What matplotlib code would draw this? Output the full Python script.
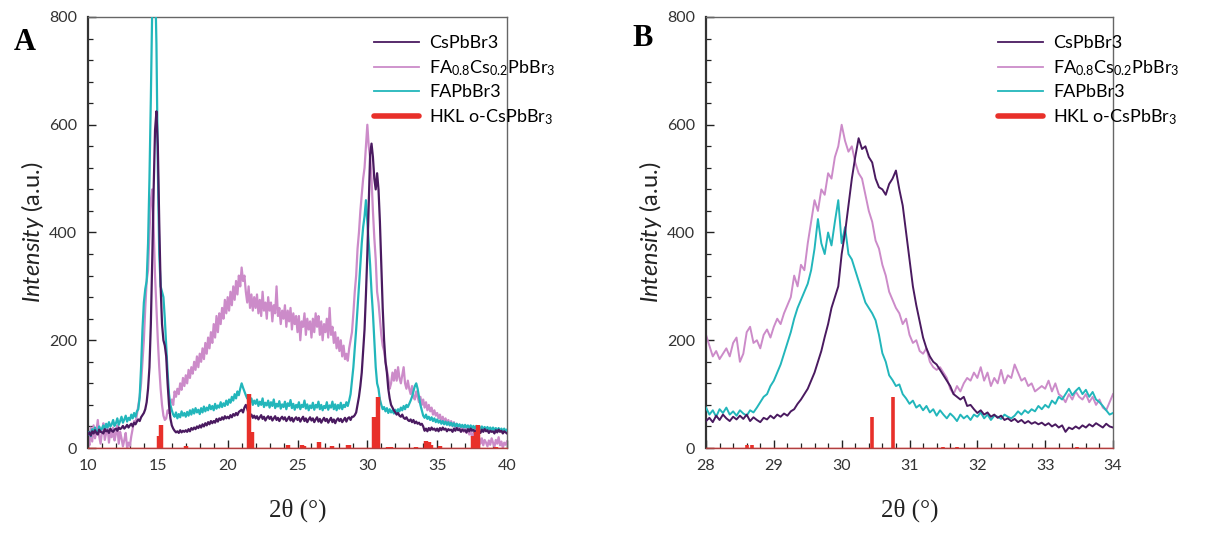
import numpy as np
import matplotlib
matplotlib.use("Agg")
import matplotlib.pyplot as plt
from matplotlib.ticker import MultipleLocator

# ---------------- data ----------------
two_theta_A = np.round(np.arange(10.0, 40.0001, 0.1), 2)   # sampling grid, panel A
two_theta_B = np.round(np.arange(28.0, 34.0001, 0.05), 3)  # sampling grid, panel B

cs_A = [
    25, 29, 23, 31, 27, 33, 28, 25, 34, 30,
    29, 27, 35, 31, 33, 28, 36, 32, 30, 34,
    36, 32, 38, 35, 37, 41, 36, 39, 43, 38,
    42, 45, 40, 47, 44, 49, 53, 50, 57, 61,
    65, 72, 85, 110, 150, 230, 350, 480, 590, 625,
    560, 420, 300, 230, 200, 190, 170, 120, 80, 55,
    42, 36, 32, 29, 31, 28, 33, 29, 32, 30,
    33, 30, 35, 31, 37, 34, 38, 35, 40, 37,
    42, 38, 44, 40, 46, 42, 48, 44, 50, 46,
    50, 47, 54, 49, 55, 52, 57, 53, 59, 55,
    58, 55, 61, 57, 63, 60, 65, 61, 67, 69,
    71, 66, 75, 80, 73, 64, 60, 62, 56, 60,
    55, 59, 53, 57, 61, 54, 58, 51, 56, 59,
    54, 58, 51, 55, 59, 52, 56, 50, 55, 58,
    53, 57, 50, 54, 58, 51, 56, 49, 54, 57,
    52, 56, 49, 54, 58, 50, 55, 48, 53, 57,
    51, 55, 48, 53, 57, 49, 54, 47, 52, 56,
    50, 54, 47, 52, 56, 48, 53, 46, 52, 55,
    50, 54, 48, 52, 56, 49, 55, 57, 52, 58,
    58, 61, 66, 80, 95, 115, 140, 180, 220, 285,
    360, 450, 545, 565, 540, 500, 480, 510, 480, 420,
    340, 260, 200, 160, 140, 110, 92, 80, 75, 70,
    66, 62, 65, 60, 58, 62, 56, 54, 57, 52,
    50, 53, 48, 52, 46, 49, 45, 47, 43, 45,
    40, 32, 36, 31, 37, 33, 38, 34, 36, 32,
    36, 31, 37, 33, 38, 34, 36, 31, 35, 33,
    34, 30, 36, 32, 37, 33, 35, 30, 34, 32,
    33, 29, 35, 31, 36, 32, 34, 29, 33, 31,
    32, 28, 34, 30, 35, 31, 33, 28, 32, 30,
    31, 27, 33, 29, 34, 30, 32, 27, 31, 29,
    27,
]

fa08_A = [
    20, 5, 38, 12, 42, 18, 30, 52, 22, 8,
    30, 46, 15, 28, 40, 10, 33, 20, 38, 14,
    26, 42, 8, 30, 18, 3, 15, 28, 0, 10,
    4, 22, 36, 50, 45, 62, 80, 95, 120, 160,
    200, 260, 310, 330, 400, 460, 480, 410, 320, 260,
    200, 150, 110, 80, 60, 52, 55, 70, 65, 85,
    90, 80, 105, 95, 110, 100, 120, 108, 130, 115,
    135, 120, 145, 130, 150, 138, 160, 145, 170, 150,
    175, 160, 185, 165, 195, 175, 205, 185, 215, 195,
    230, 205, 245, 215, 250, 230, 260, 240, 275, 250,
    280, 255, 290, 265, 300, 275, 310, 285, 320, 300,
    335, 310, 320, 290, 270, 300, 260, 285, 255, 280,
    260, 285, 250, 275, 245, 290, 255, 270, 240, 280,
    255, 270, 235, 265, 250, 300, 245, 260, 230, 255,
    240, 265, 225, 255, 235, 260, 220, 250, 230, 245,
    215, 245, 200, 235, 225, 250, 210, 240, 220, 235,
    205, 240, 215, 250, 225, 245, 210, 235, 200, 230,
    215, 240, 205, 260, 210, 225, 195, 215, 185, 205,
    180, 200, 170, 190, 165, 175, 162, 185, 200, 215,
    250, 290, 320, 370, 400, 440, 470, 500, 520, 560,
    600, 560, 540, 500, 440, 390, 350, 290, 270, 240,
    210, 190, 180, 160, 145, 130, 110, 120, 140, 125,
    145, 125, 150, 130, 120, 135, 150, 120, 110, 125,
    110, 100, 115, 95, 90, 105, 95, 85, 95, 80,
    90, 75, 85, 70, 80, 68, 75, 62, 70, 60,
    65, 55, 62, 50, 58, 48, 55, 45, 52, 42,
    50, 40, 48, 38, 45, 35, 42, 32, 40, 30,
    38, 28, 35, 25, 32, 20, 28, 18, 25, 12,
    20, 8, 18, 5, 15, 10, 3, 14, 6, 18,
    10, 2, 15, 8, 20, 5, 12, 0, 10, 6,
    12,
]

fa_A = [
    25, 30, 22, 35, 28, 38, 30, 27, 40, 33,
    36, 42, 34, 45, 38, 48, 40, 44, 52, 41,
    46, 55, 43, 50, 58, 47, 53, 60, 49, 56,
    52, 62, 55, 65, 58, 68, 72, 95, 150, 220,
    270, 295, 310, 380, 500, 650, 820, 900, 880, 750,
    520, 360, 300, 290, 280, 240, 190, 140, 100, 80,
    70, 62, 58, 66, 55, 63, 57, 68, 60, 65,
    58, 67, 60, 70, 62, 72, 64, 74, 66, 71,
    63, 74, 66, 77, 68, 75, 70, 80, 72, 78,
    70, 82, 73, 79, 75, 85, 76, 83, 78, 88,
    80, 90, 84, 95, 88, 100, 92, 105, 98, 110,
    120, 112, 105, 98, 92, 95, 85, 92, 80, 88,
    82, 90, 78, 86, 80, 92, 76, 84, 79, 88,
    75, 85, 78, 90, 74, 82, 77, 87, 73, 81,
    76, 86, 72, 83, 78, 89, 74, 82, 71, 80,
    75, 85, 72, 80, 76, 88, 73, 81, 70, 79,
    74, 84, 71, 80, 75, 86, 72, 80, 70, 78,
    74, 85, 71, 79, 75, 86, 72, 81, 70, 80,
    73, 84, 72, 80, 76, 85, 78, 88, 100, 125,
    150, 185, 220, 260, 300, 340, 380, 410, 430, 460,
    420, 380, 340, 290, 250, 200, 150, 120, 110, 90,
    80, 72, 76, 68, 74, 65, 72, 66, 70, 64,
    71, 65, 72, 68, 75, 70, 78, 72, 80, 76,
    82, 88, 95, 105, 115, 120, 110, 95, 80, 70,
    60, 56, 62, 54, 58, 52, 57, 50, 55, 48,
    53, 47, 51, 45, 50, 44, 49, 43, 48, 42,
    47, 41, 46, 40, 45, 40, 44, 39, 43, 38,
    43, 38, 42, 37, 42, 37, 41, 36, 41, 36,
    40, 35, 40, 35, 39, 34, 39, 34, 38, 33,
    38, 33, 37, 32, 37, 32, 36, 31, 36, 31,
    34,
]

cs_B = [
    50, 56, 48, 60, 52, 62, 55, 50, 58, 53,
    60, 54, 62, 50, 57, 52, 48, 56, 53, 60,
    55, 62, 58, 64, 60, 68, 72, 82, 90, 100,
    110, 125, 140, 160, 180, 206, 230, 260, 280, 300,
    360, 400, 450, 500, 540, 575, 555, 560, 540, 530,
    500, 484, 480, 470, 490, 500, 515, 480, 450, 400,
    350, 300, 265, 235, 205, 185, 170, 160, 155, 145,
    135, 125, 115, 100, 95, 90, 95, 78, 80, 72,
    65, 70, 62, 66, 58, 62, 56, 60, 52, 55,
    50, 54, 48, 52, 46, 50, 45, 48, 44, 47,
    42, 46, 40, 44, 38, 42, 30, 38, 35, 40,
    36, 42, 38, 44, 40, 46, 42, 38, 45, 40,
    38,
]

fa08_B = [
    210, 190, 170, 180, 165, 175, 185, 170, 195, 205,
    160, 175, 215, 225, 195, 200, 185, 210, 220, 205,
    225, 240, 230, 250, 265, 280, 320, 300, 340, 330,
    380, 420, 460, 440, 480, 470, 510, 500, 540, 560,
    600, 570, 550, 560, 530, 510, 500, 470, 440, 420,
    385, 370, 340, 320, 290, 275, 260, 250, 230, 240,
    210, 195, 200, 180, 175, 185, 160, 150, 145, 150,
    140, 130, 110, 100, 115, 105, 120, 130, 125, 140,
    130, 150, 125, 140, 115, 130, 120, 145, 120, 135,
    130, 155, 140, 125, 130, 115, 120, 105, 110, 115,
    110, 125, 105, 120, 100, 95, 85, 100, 90, 105,
    95, 90, 100, 85, 95, 80, 90, 75, 70, 85,
    100,
]

fa_B = [
    75, 62, 70, 58, 72, 65, 75, 62, 68, 60,
    70, 64, 60, 70, 66, 75, 85, 95, 100, 115,
    125, 140, 155, 175, 195, 215, 240, 260, 275, 290,
    305, 330, 370, 425, 380, 360, 400, 376, 420, 460,
    380, 410, 360, 350, 330, 310, 290, 270, 260, 250,
    237, 210, 176, 160, 135, 126, 115, 118, 100, 92,
    82, 88, 75, 80, 70, 78, 66, 72, 60, 70,
    62, 55, 64, 58, 50, 62, 55, 60, 52, 62,
    58, 66, 55, 62, 52, 60, 58, 54, 62, 58,
    55, 60, 68, 62, 70, 65, 72, 68, 78, 72,
    80, 75, 88, 82, 95, 90, 100, 110, 98, 106,
    112, 100, 108, 95, 104, 90, 85, 78, 70, 62,
    65,
]

hkl_pos = [15.1, 15.25, 17.0, 21.55, 21.75, 24.3, 25.3, 25.45, 26.55, 27.45,
           28.6, 28.68, 30.45, 30.75, 31.5, 31.7, 33.47, 34.2, 34.4, 34.55,
           35.2, 37.6, 37.8, 37.95, 39.2]
hkl_int = [22, 42, 3, 100, 30, 6, 6, 4, 11, 4,
           5, 5, 58, 95, 2, 2, 2, 13, 12, 6,
           4, 22, 30, 42, 2]

labels = ["CsPbBr3", r"FA$_{0.8}$Cs$_{0.2}$PbBr$_3$", "FAPbBr3", r"HKL o-CsPbBr$_3$"]
colors = {"cs": "#4a1a60", "fa08": "#cc8bc9", "fa": "#22b6bb", "hkl": "#e8302a"}

# ---------------- style ----------------
plt.rcParams['font.family'] = ['Lato', 'DejaVu Sans']
plt.rcParams['mathtext.fontset'] = 'custom'
plt.rcParams['mathtext.rm'] = 'Lato'
plt.rcParams['mathtext.it'] = 'Lato:italic'

fig = plt.figure(figsize=(12.15, 5.33), dpi=100)
axA = fig.add_axes([88 / 1215, 1 - 448 / 533, 419 / 1215, 431 / 533])
axB = fig.add_axes([706 / 1215, 1 - 448 / 533, 407 / 1215, 431 / 533])


def draw(ax, x, cs, fa08, fa, xlim, xmaj, xmin, barw, lw, leg_anchor):
    l2, = ax.plot(x, fa08, color=colors["fa08"], lw=lw, zorder=2)
    l3, = ax.plot(x, fa, color=colors["fa"], lw=lw, zorder=3)
    l1, = ax.plot(x, cs, color=colors["cs"], lw=lw, zorder=4)
    ax.vlines(hkl_pos, 0, hkl_int, color=colors["hkl"], lw=barw, zorder=5)
    ax.axhline(0, color=colors["hkl"], lw=1.0, zorder=5)
    h1, = ax.plot([], [], color=colors["cs"], lw=1.3)
    h2, = ax.plot([], [], color=colors["fa08"], lw=1.3)
    h3, = ax.plot([], [], color=colors["fa"], lw=1.3)
    h4, = ax.plot([], [], color=colors["hkl"], lw=4, solid_capstyle='round')
    ax.set_xlim(*xlim)
    ax.set_ylim(0, 800)
    ax.xaxis.set_major_locator(MultipleLocator(xmaj))
    ax.xaxis.set_minor_locator(MultipleLocator(xmin))
    ax.yaxis.set_major_locator(MultipleLocator(200))
    ax.yaxis.set_minor_locator(MultipleLocator(40))
    ax.tick_params(which='both', direction='in', top=False, right=False,
                   labelsize=11.5, labelcolor='#333333', color='#222222')
    ax.tick_params(which='major', length=6, width=1.0, pad=8)
    ax.tick_params(which='minor', length=3.5, width=0.9)
    for s in ['top', 'right']:
        ax.spines[s].set_color('#666666')
        ax.spines[s].set_linewidth(1.0)
    ax.spines['left'].set_color('#333333')
    ax.spines['left'].set_linewidth(1.6)
    ax.spines['bottom'].set_color('#b04040')
    ax.spines['bottom'].set_linewidth(1.0)
    ax.set_ylabel(r"$\it{Intensity}$ (a.u.)", fontsize=17, color='#222222', labelpad=2)
    ax.set_xlabel("2θ (°)", fontsize=18, family='Liberation Serif', color='#222222', labelpad=18)
    ax.legend([h1, h2, h3, h4], labels, loc='upper left', bbox_to_anchor=leg_anchor,
              frameon=False, fontsize=13, handlelength=2.5, handletextpad=0.55,
              labelspacing=0.38, borderaxespad=0)


draw(axA, two_theta_A, cs_A, fa08_A, fa_A, (10, 40), 5, 1, 3.2, 1.6, (0.665, 0.975))
draw(axB, two_theta_B, cs_B, fa08_B, fa_B, (28, 34), 1, 0.2, 2.6, 1.4, (0.700, 0.975))

fig.text(14 / 1215, 1 - 42 / 533, "A", fontsize=22, fontweight='bold',
         family='Liberation Serif', va='center', ha='left')
fig.text(632 / 1215, 1 - 38 / 533, "B", fontsize=22, fontweight='bold',
         family='Liberation Serif', va='center', ha='left')

fig.savefig("out.png", dpi=100)
